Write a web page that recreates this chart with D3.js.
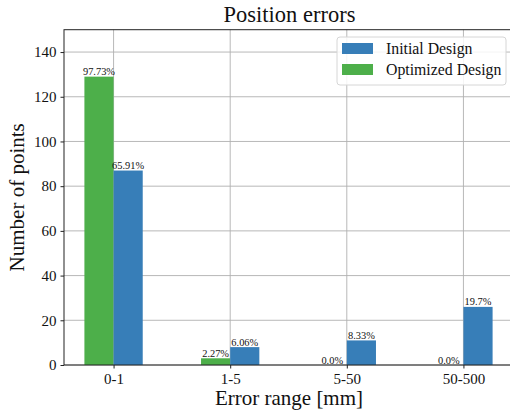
<!DOCTYPE html>
<html>
<head>
<meta charset="utf-8">
<script src="https://cdn.jsdelivr.net/npm/d3@7"></script>
<style>
  html, body { margin: 0; padding: 0; background: #fff; }
  svg { display: block; }
  text { font-family: "Liberation Serif", "DejaVu Serif", serif; fill: #111; }
</style>
</head>
<body>
<svg id="chart" width="510" height="414"></svg>
<script>
// Error-range categories and counts of points per design
const categories = ["0-1", "1-5", "5-50", "50-500"];
const initialCounts = [87, 8, 11, 26];
const optimizedCounts = [129, 3, 0, 0];
const initialLabels = ["65.91%", "6.06%", "8.33%", "19.7%"];
const optimizedLabels = ["97.73%", "2.27%", "0.0%", "0.0%"];
const yTicks = [0, 20, 40, 60, 80, 100, 120, 140];
const seriesNames = ["Initial Design", "Optimized Design"];
const colors = { initial: "#377eb8", optimized: "#4daf4a" };

const svg = d3.select("#chart");
const plotLeft = 64, plotRight = 513, plotTop = 29.7, plotBottom = 365;

const x = d3.scaleLinear().domain([-0.425, 3.425]).range([plotLeft, plotRight]);
const y = d3.scaleLinear().domain([0, 150]).range([plotBottom, plotTop]);
const barW = 0.25;

const plot = svg.append("g");

// grid
plot.selectAll("line.gy").data(yTicks).join("line")
  .attr("x1", plotLeft).attr("x2", plotRight)
  .attr("y1", d => y(d)).attr("y2", d => y(d))
  .attr("stroke", "#b0b0b0").attr("stroke-width", 0.9);
plot.selectAll("line.gx").data(categories).join("line")
  .attr("x1", (d, i) => x(i)).attr("x2", (d, i) => x(i))
  .attr("y1", plotTop).attr("y2", plotBottom)
  .attr("stroke", "#b0b0b0").attr("stroke-width", 0.9);

// bars
const bars = plot.append("g");
bars.selectAll("rect.opt").data(optimizedCounts).join("rect")
  .attr("x", (d, i) => x(i - barW))
  .attr("width", (d, i) => x(i) - x(i - barW))
  .attr("y", d => y(d))
  .attr("height", d => Math.max(y(0) - y(d), 0))
  .attr("fill", colors.optimized);
bars.selectAll("rect.init").data(initialCounts).join("rect")
  .attr("x", (d, i) => x(i))
  .attr("width", (d, i) => x(i + barW) - x(i))
  .attr("y", d => y(d))
  .attr("height", d => y(0) - y(d))
  .attr("fill", colors.initial);

// value labels
const lab = plot.append("g").attr("font-size", 10.4).attr("text-anchor", "middle").attr("fill", "#222");
lab.selectAll("text.o").data(optimizedCounts).join("text")
  .attr("x", (d, i) => x(i - barW / 2))
  .attr("y", d => y(d) - 1.5)
  .text((d, i) => optimizedLabels[i]);
lab.selectAll("text.n").data(initialCounts).join("text")
  .attr("x", (d, i) => x(i + barW / 2))
  .attr("y", d => y(d) - 1.5)
  .text((d, i) => initialLabels[i]);

// axes
const yAxis = d3.axisLeft(y).tickValues(yTicks).tickSize(3.5).tickPadding(4);
const gy = svg.append("g").attr("transform", `translate(${plotLeft},0)`).call(yAxis);
gy.select(".domain").remove();
gy.selectAll("text").attr("font-size", 15).attr("font-family", "Liberation Serif").attr("fill", "#222");
gy.selectAll("line").attr("stroke", "#222");

const xAxis = d3.axisBottom(x).tickValues(d3.range(categories.length))
  .tickFormat(i => categories[i]).tickSize(3.5).tickPadding(5);
const gx = svg.append("g").attr("transform", `translate(0,${plotBottom})`).call(xAxis);
gx.select(".domain").remove();
gx.selectAll("text").attr("font-size", 15).attr("font-family", "Liberation Serif").attr("fill", "#222");
gx.selectAll("line").attr("stroke", "#222");

// spines
svg.append("rect").attr("x", plotLeft).attr("y", plotTop)
  .attr("width", plotRight - plotLeft).attr("height", plotBottom - plotTop)
  .attr("fill", "none").attr("stroke", "#222").attr("stroke-width", 1);

// title and axis labels
svg.append("text").attr("x", 289.5).attr("y", 22)
  .attr("text-anchor", "middle").attr("font-size", 22.5).text("Position errors");
svg.append("text").attr("x", 289).attr("y", 405)
  .attr("text-anchor", "middle").attr("font-size", 21).text("Error range [mm]");
svg.append("text")
  .attr("transform", `translate(24,${(plotTop + plotBottom) / 2}) rotate(-90)`)
  .attr("text-anchor", "middle").attr("font-size", 21).text("Number of points");

// legend
const lg = svg.append("g");
lg.append("rect").attr("x", 337).attr("y", 37).attr("width", 169).attr("height", 48)
  .attr("rx", 3).attr("fill", "rgba(255,255,255,0.85)").attr("stroke", "#d6d6d6");
const legendColors = [colors.initial, colors.optimized];
const items = lg.selectAll("g.item").data(seriesNames).join("g")
  .attr("transform", (d, i) => `translate(342,${43 + i * 21})`);
items.append("rect").attr("width", 31).attr("height", 11)
  .attr("fill", (d, i) => legendColors[i]);
items.append("text").attr("x", 44).attr("y", 10.5).attr("font-size", 15.8).text(d => d);
</script>
</body>
</html>
